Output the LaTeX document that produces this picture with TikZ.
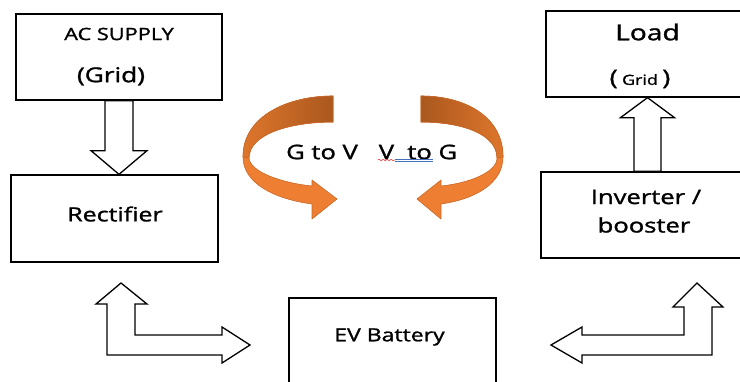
\documentclass[tikz,border=0pt]{standalone}
\usepackage{fontspec}
\setmainfont{Open Sans}[FakeBold=1.2]
\usetikzlibrary{calc}
\usetikzlibrary{decorations.pathmorphing}
\definecolor{ribbonlight}{RGB}{238,127,50}
\definecolor{ribbonmid}{RGB}{222,118,44}
\definecolor{ribbondark}{RGB}{170,88,30}
\definecolor{ribbonedge}{RGB}{200,104,40}
\definecolor{spellred}{RGB}{220,40,40}
\definecolor{spellblue}{RGB}{70,110,190}
\newcommand{\wide}[1]{\scalebox{1.28}[1]{#1}}

\begin{document}
\begin{tikzpicture}[x=1pt, y=-1pt,
    box/.style={draw, line width=1.3pt, inner sep=0pt},
    lbl/.style={inner sep=0pt},
    blockarrow/.style={draw, line width=1.3pt, fill=white, line join=miter},
    ribbon/.style={draw=ribbonedge, line width=0.6pt, line join=round}]
    \useasboundingbox (0,0) rectangle (740,381);
    \clip (0,0) rectangle (740,381);

    % boxes
    \node[box, minimum width=206pt, minimum height=86pt] (ac) at (119,57) {};
    \node[box, minimum width=207pt, minimum height=87pt] (rect) at (114.5,218.5) {};
    \node[box, minimum width=224pt, minimum height=86pt] (load) at (658,54) {};
    \node[box, minimum width=229pt, minimum height=86pt] (inv) at (655.5,215) {};
    \node[box, minimum width=207pt, minimum height=102pt] (ev) at (392.5,349) {};

    % texts
    \node[lbl, font=\fontsize{17}{20}\selectfont] (actop) at (119,34) {\wide{AC SUPPLY}};
    \node[lbl, font=\fontsize{20.5}{22}\selectfont] (acbot) at (111,76) {\wide{(Grid)}};
    \node[lbl, font=\fontsize{19.5}{22}\selectfont] (recttxt) at (115,214) {\wide{Rectifier}};
    \node[lbl, font=\fontsize{22}{24}\selectfont] (loadtop) at (647.5,32) {\wide{Load}};
    \node[lbl, font=\fontsize{21}{24}\selectfont] (loadbot) at (640,79)
        {\wide{(\,\fontsize{14}{16}\selectfont Grid\fontsize{21}{24}\selectfont\,)}};
    \node[lbl, font=\fontsize{20}{22}\selectfont] (invtop) at (646,197) {\wide{Inverter /}};
    \node[lbl, font=\fontsize{20}{22}\selectfont] (invbot) at (644,225) {\wide{booster}};
    \node[lbl, font=\fontsize{18}{20}\selectfont] (evtxt) at (389.5,337) {\wide{EV Battery}};

    % block arrows
    \draw[blockarrow] ($(ac.south)+(-14,0)$) -- ($(ac.south)+(14,0)$) -- ($(ac.south)+(14,50)$)
        -- ($(ac.south)+(28,50)$) -- (ac.south |- rect.north) -- ($(ac.south)+(-28,50)$)
        -- ($(ac.south)+(-14,50)$) -- cycle;
    \draw[blockarrow] ($(inv.north -| loadtop)+(-13.5,0)$) -- ($(load.south -| loadtop)+(-13.5,20)$)
        -- ($(load.south -| loadtop)+(-27,20)$) -- (load.south -| loadtop)
        -- ($(load.south -| loadtop)+(27,20)$) -- ($(load.south -| loadtop)+(13.5,20)$)
        -- ($(inv.north -| loadtop)+(13.5,0)$) -- cycle;
    \draw[blockarrow] (121,283) -- (147,304) -- (135,304) -- (135,335) -- (222,335) -- (222,327)
        -- (250,345) -- (222,363) -- (222,355) -- (107,355) -- (107,304) -- (96,304) -- cycle;
    \draw[blockarrow] (697,283) -- (723,307) -- (712,307) -- (712,355) -- (582,355) -- (582,363)
        -- (551,345) -- (582,327) -- (582,335) -- (684,335) -- (684,307) -- (673,307) -- cycle;

    % curved arrows
    \fill[ribbonlight, ribbon] (333,96) .. controls (288,96) and (243,116) .. (243,157)
        .. controls (243,183) and (274,199) .. (312,204) -- (312,219) -- (337,199) -- (312,180)
        -- (312,186) .. controls (282,183) and (250,172) .. (249,158)
        .. controls (249,134) and (290,122) .. (333,122) -- cycle;
    \shade[ribbon, left color=ribbonmid, right color=ribbondark] (333,96)
        .. controls (288,96) and (243,116) .. (243,157)
        -- (249,158) .. controls (249,134) and (290,122) .. (333,122) -- cycle;
    \fill[ribbonlight, ribbon] (421,96) .. controls (464,96) and (503,116) .. (503,157)
        .. controls (503,183) and (476,199) .. (441,204) -- (441,219) -- (417,199) -- (441,180)
        -- (441,186) .. controls (470,183) and (497,172) .. (497,158)
        .. controls (497,134) and (462,122) .. (421,122) -- cycle;
    \shade[ribbon, left color=ribbondark, right color=ribbonmid] (421,96)
        .. controls (464,96) and (503,116) .. (503,157)
        -- (497,158) .. controls (497,134) and (462,122) .. (421,122) -- cycle;

    \node[lbl, font=\fontsize{20}{22}\selectfont] (gv) at (322,152) {\wide{G to V}};
    \node[lbl, font=\fontsize{20}{22}\selectfont] (vg) at (418,152) {\wide{V\ \ to G}};
    \draw[spellred, line width=0.5pt, decorate, decoration={snake, amplitude=0.8pt, segment length=4pt}]
        (378,160) -- (395,160);
    \draw[spellblue, line width=0.5pt] (395,159) -- (433,159);
    \draw[spellblue, line width=0.5pt] (395,161.5) -- (433,161.5);
\end{tikzpicture}
\end{document}
